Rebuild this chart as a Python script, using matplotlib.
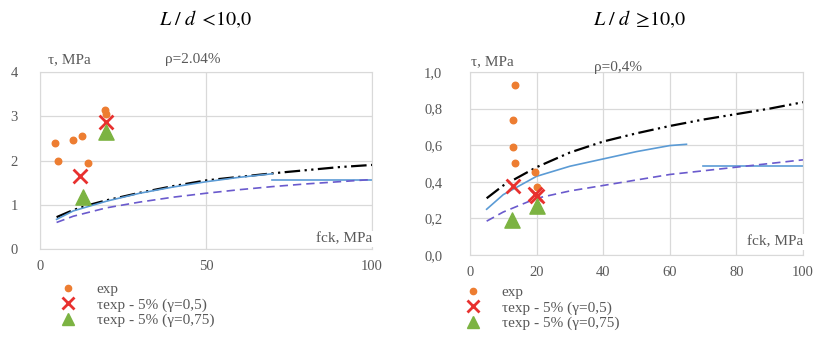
import matplotlib.pyplot as plt
from matplotlib.lines import Line2D

plt.rcParams['font.family'] = ['Liberation Serif', 'DejaVu Serif']
plt.rcParams['mathtext.fontset'] = 'stix'

# left chart, L/d < 10
l_exp_x = [4.5, 5.5, 10, 12.5, 14.5, 19.5, 20]
l_exp_y = [2.4, 2.0, 2.47, 2.56, 1.94, 3.15, 3.05]
l_x05_x = [12, 20]
l_x05_y = [1.64, 2.86]
l_t075_x = [13, 20]
l_t075_y = [1.18, 2.65]
l_black_x = [5, 10, 15, 20, 30, 40, 50, 60, 70, 80, 90, 100]
l_black_y = [0.72, 0.88, 1.0, 1.1, 1.27, 1.42, 1.55, 1.63, 1.71, 1.78, 1.85, 1.9]
l_blue_x = [5, 10, 20, 30, 40, 50, 60, 70]
l_blue_y = [0.67, 0.86, 1.08, 1.26, 1.4, 1.52, 1.62, 1.7]
l_blue2_x = [70, 100]
l_blue2_y = [1.56, 1.56]
l_purp_x = [5, 10, 20, 30, 40, 50, 60, 70, 80, 90, 100]
l_purp_y = [0.6, 0.74, 0.93, 1.06, 1.17, 1.26, 1.34, 1.41, 1.47, 1.52, 1.57]

# right chart, L/d >= 10
r_exp_x = [13.5, 13, 13, 13.5, 19.5, 20]
r_exp_y = [0.93, 0.74, 0.59, 0.5, 0.455, 0.37]
r_x05_x = [13, 19.5, 20]
r_x05_y = [0.376, 0.335, 0.325]
r_t075_x = [12.5, 20]
r_t075_y = [0.19, 0.27]
r_black_x = [5, 10, 20, 30, 40, 50, 60, 70, 80, 90, 100]
r_black_y = [0.31, 0.38, 0.48, 0.56, 0.62, 0.665, 0.705, 0.74, 0.77, 0.8, 0.835]
r_blue_x = [5, 10, 20, 30, 40, 50, 60, 65]
r_blue_y = [0.25, 0.33, 0.43, 0.485, 0.525, 0.565, 0.598, 0.605]
r_blue2_x = [70, 100]
r_blue2_y = [0.485, 0.485]
r_purp_x = [5, 10, 20, 30, 40, 50, 60, 70, 80, 90, 100]
r_purp_y = [0.185, 0.235, 0.31, 0.35, 0.38, 0.41, 0.44, 0.46, 0.48, 0.5, 0.52]

leg_labels = ['exp', 'τexp - 5% (γ=0,5)', 'τexp - 5% (γ=0,75)']

c_exp = '#ED7D31'
c_x = '#E8312F'
c_tri = '#7CB342'
c_blue = '#5B9BD5'
c_purp = '#6A5ACD'
c_grid = '#D9D9D9'
c_txt = '#595959'

fig = plt.figure(figsize=(8.38, 3.45), dpi=100)
W, H = 838, 345


def axes_px(x0, x1, y0, y1):
    return fig.add_axes([x0 / W, 1 - y1 / H, (x1 - x0) / W, (y1 - y0) / H])


ax1 = axes_px(40, 372, 72, 249)
ax2 = axes_px(470, 803, 72, 255)


def draw(ax, ex, ey, xx, xy, tx, ty, bx, by, blx, bly, bl2x, bl2y, px, py):
    ax.plot(bx, by, color='black', lw=1.6, dashes=[7, 2, 1, 2, 1, 2])
    ax.plot(blx, bly, color=c_blue, lw=1.2)
    ax.plot(bl2x, bl2y, color=c_blue, lw=1.2)
    ax.plot(px, py, color=c_purp, lw=1.2, dashes=[5, 3])
    ax.scatter(ex, ey, s=22, color=c_exp, zorder=4)
    ax.scatter(xx, xy, s=100, marker='x', color=c_x, linewidths=2, zorder=5)
    ax.scatter(tx, ty, s=120, marker='^', color=c_tri, zorder=5)
    ax.grid(True, color=c_grid, lw=0.9)
    ax.set_axisbelow(True)
    for s in ax.spines.values():
        s.set_color(c_grid)
    ax.tick_params(length=0, colors=c_txt, labelsize=10.5, pad=8)


draw(ax1, l_exp_x, l_exp_y, l_x05_x, l_x05_y, l_t075_x, l_t075_y,
     l_black_x, l_black_y, l_blue_x, l_blue_y, l_blue2_x, l_blue2_y, l_purp_x, l_purp_y)
ax1.set_xlim(0, 100)
ax1.set_ylim(0, 4)
ax1.set_xticks([0, 50, 100])
ax1.set_yticks([0, 1, 2, 3, 4])
ax1.tick_params(axis='y', pad=16)

draw(ax2, r_exp_x, r_exp_y, r_x05_x, r_x05_y, r_t075_x, r_t075_y,
     r_black_x, r_black_y, r_blue_x, r_blue_y, r_blue2_x, r_blue2_y, r_purp_x, r_purp_y)
ax2.set_xlim(0, 100)
ax2.set_ylim(0, 1.0)
ax2.set_xticks([0, 20, 40, 60, 80, 100])
ax2.set_yticks([0, 0.2, 0.4, 0.6, 0.8, 1.0])
ax2.set_yticklabels(['0,0', '0,2', '0,4', '0,6', '0,8', '1,0'])
ax2.tick_params(axis='y', pad=20)

fig.text(48 / W, 1 - 60 / H, 'τ, MPa', color=c_txt, fontsize=11, va='center')
fig.text(165 / W, 1 - 59 / H, 'ρ=2.04%', color=c_txt, fontsize=11, va='center')
fig.text(471 / W, 1 - 62 / H, 'τ, MPa', color=c_txt, fontsize=11, va='center')
fig.text(594 / W, 1 - 67 / H, 'ρ=0,4%', color=c_txt, fontsize=11, va='center')
box = dict(facecolor='white', edgecolor='none', pad=1)
fig.text(316 / W, 1 - 239 / H, 'fck, MPa', color=c_txt, fontsize=11, va='center', bbox=box)
fig.text(747 / W, 1 - 242 / H, 'fck, MPa', color=c_txt, fontsize=11, va='center', bbox=box)

fig.text(206 / W, 1 - 20 / H, r'$L\;/\;d\;<\!10{,}0$', fontsize=14.5, ha='center', va='center')
fig.text(640 / W, 1 - 20 / H, r'$L\;/\;d\;\geq\!10{,}0$', fontsize=14.5, ha='center', va='center')

handles = [
    Line2D([], [], ls='none', marker='o', ms=4.5, color=c_exp),
    Line2D([], [], ls='none', marker='x', ms=8, mew=2, color=c_x),
    Line2D([], [], ls='none', marker='^', ms=8, color=c_tri),
]
for lx, ly in [(51, 275), (456, 278)]:
    leg = fig.legend(handles, leg_labels, loc='upper left', bbox_to_anchor=(lx / W, 1 - ly / H),
                     frameon=False, fontsize=11, handlelength=1.2, handletextpad=1.3,
                     labelspacing=0.1, borderpad=0)
    for t in leg.get_texts():
        t.set_color(c_txt)

fig.savefig('out.png', dpi=100)
